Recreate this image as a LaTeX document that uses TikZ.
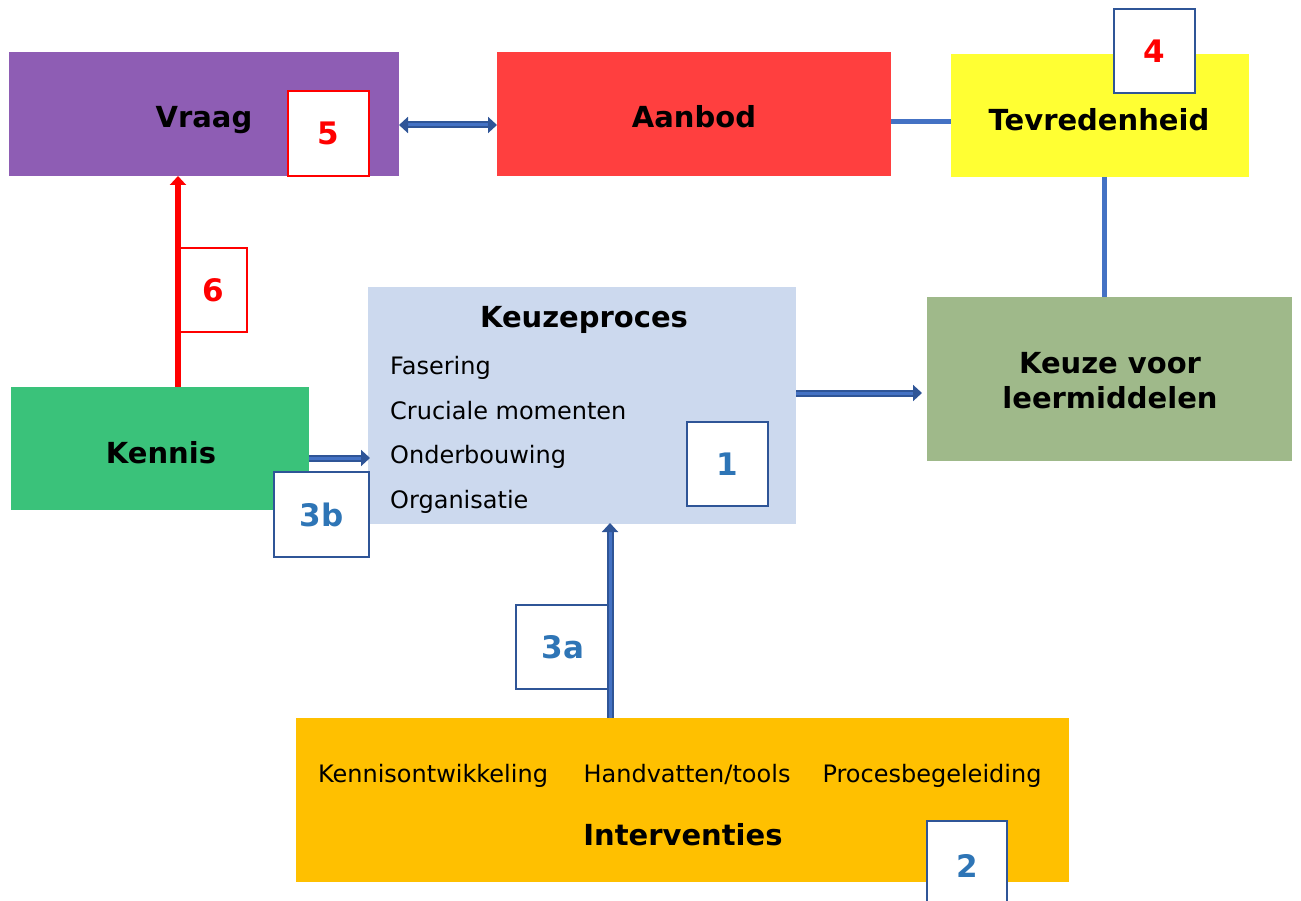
\documentclass[tikz,border=0pt]{standalone}
\usepackage{fontspec}
\setmainfont{DejaVu Sans}
\usetikzlibrary{arrows.meta}
\definecolor{cPurple}{HTML}{8E5DB4}
\definecolor{cRed}{HTML}{FF3F3F}
\definecolor{cYellow}{HTML}{FFFF33}
\definecolor{cSage}{HTML}{9FB98A}
\definecolor{cLight}{HTML}{CCD9EE}
\definecolor{cGreen}{HTML}{3AC27A}
\definecolor{cOrange}{HTML}{FFC000}
\definecolor{cDark}{HTML}{2F5597}
\definecolor{cMid}{HTML}{4472C4}
\definecolor{cNum}{HTML}{2E75B6}
\definecolor{cPure}{HTML}{FF0000}
\tikzset{
  x=1pt,y=-1pt,
  box/.style={inner sep=0pt, outer sep=0pt, anchor=north west},
  title/.style={inner sep=0pt, anchor=base, font=\fontsize{29}{35}\selectfont\bfseries},
  item/.style={inner sep=0pt, font=\fontsize{24}{28}\selectfont, anchor=base west},
  citem/.style={item, anchor=base},
  numbox/.style={draw=cDark, line width=2pt, fill=white, inner sep=0pt, anchor=north west, font=\fontsize{31}{35}\selectfont\bfseries, text=cNum},
  rednum/.style={numbox, draw=cPure, text=cPure},
  blockarrow/.style={draw=cDark, double=cMid, double distance=3pt, line width=2pt, -{Triangle[length=9pt,width=16pt]}},
  blockarrows/.style={blockarrow, {Triangle[length=9pt,width=16pt]}-{Triangle[length=9pt,width=16pt]}},
  plain/.style={draw=cMid, line width=5pt},
}
\begin{document}
\begin{tikzpicture}
\useasboundingbox (0,0) rectangle (1301,901);
% main boxes
\node[box, fill=cPurple, minimum width=390pt, minimum height=124pt] (vraag) at (9,52) {};
\node[title] (vraagT) at (204,128) {Vraag};
\node[box, fill=cRed, minimum width=394pt, minimum height=124pt] (aanbod) at (497,52) {};
\node[title] (aanbodT) at (694,128) {Aanbod};
\node[box, fill=cYellow, minimum width=298pt, minimum height=123pt] (tevr) at (951,54) {};
\node[title] (tevrT) at (1099,131) {Tevredenheid};
\node[box, fill=cSage, minimum width=365pt, minimum height=164pt] (keuze) at (927,297) {};
\node[title] (keuzeT1) at (1110,373) {Keuze voor};
\node[title] (keuzeT2) at (1110,408) {leermiddelen};
\node[box, fill=cLight, minimum width=428pt, minimum height=237pt] (proces) at (368,287) {};
\node[title] (procesT) at (584,327) {Keuzeproces};
\node[item] (f1) at (390,374) {Fasering};
\node[item] (f2) at (390,419) {Cruciale momenten};
\node[item] (f3) at (390,463) {Onderbouwing};
\node[item] (f4) at (390,508) {Organisatie};
\node[box, fill=cGreen, minimum width=298pt, minimum height=123pt] (kennis) at (11,387) {};
\node[title] (kennisT) at (161,463) {Kennis};
\node[box, fill=cOrange, minimum width=773pt, minimum height=164pt] (interv) at (296,718) {};
\node[citem] (i1) at (433,782) {Kennisontwikkeling};
\node[citem] (i2) at (687,782) {Handvatten/tools};
\node[citem] (i3) at (932,782) {Procesbegeleiding};
\node[title] (intervT) at (683,845) {Interventies};
% connector coordinates
\coordinate (va) at (399,125);
\coordinate (av) at (497,125);
\coordinate (at) at (891,122);
\coordinate (ta) at (951,122);
\coordinate (tk) at (1104,177);
\coordinate (kt) at (1104,297);
\coordinate (pk1) at (796,393);
\coordinate (pk2) at (922,393);
\coordinate (kp1) at (309,458);
\coordinate (kp2) at (370,458);
\coordinate (ip1) at (610,718);
\coordinate (ip2) at (610,523);
\coordinate (kv1) at (178,387);
\coordinate (kv2) at (178,176);
% connectors
\draw[blockarrows] (va) -- (av);
\draw[plain] (at) -- (ta);
\draw[plain] (tk) -- (kt);
\draw[blockarrow] (pk1) -- (pk2);
\draw[blockarrow] (kp1) -- (kp2);
% number boxes
\node[numbox, minimum width=94pt, minimum height=84pt] (n3a) at (515,604) {3a};
\draw[blockarrow] (ip1) -- (ip2);
\node[rednum, line width=2pt, minimum width=68pt, minimum height=84pt] (n6) at (178,247) {6};
\draw[draw=cPure, line width=6pt, -{Triangle[length=9pt,width=16pt]}] (kv1) -- (kv2);
\node[rednum, minimum width=81pt, minimum height=85pt] (n5) at (287,90) {5};
\node[numbox, text=cPure, minimum width=81pt, minimum height=84pt] (n4) at (1113,8) {4};
\node[numbox, minimum width=81pt, minimum height=84pt] (n1) at (686,421) {1};
\node[numbox, minimum width=95pt, minimum height=85pt] (n3b) at (273,471) {3b};
\node[numbox, minimum width=80pt, minimum height=90pt] (n2) at (926,820) {2};
\end{tikzpicture}
\end{document}
